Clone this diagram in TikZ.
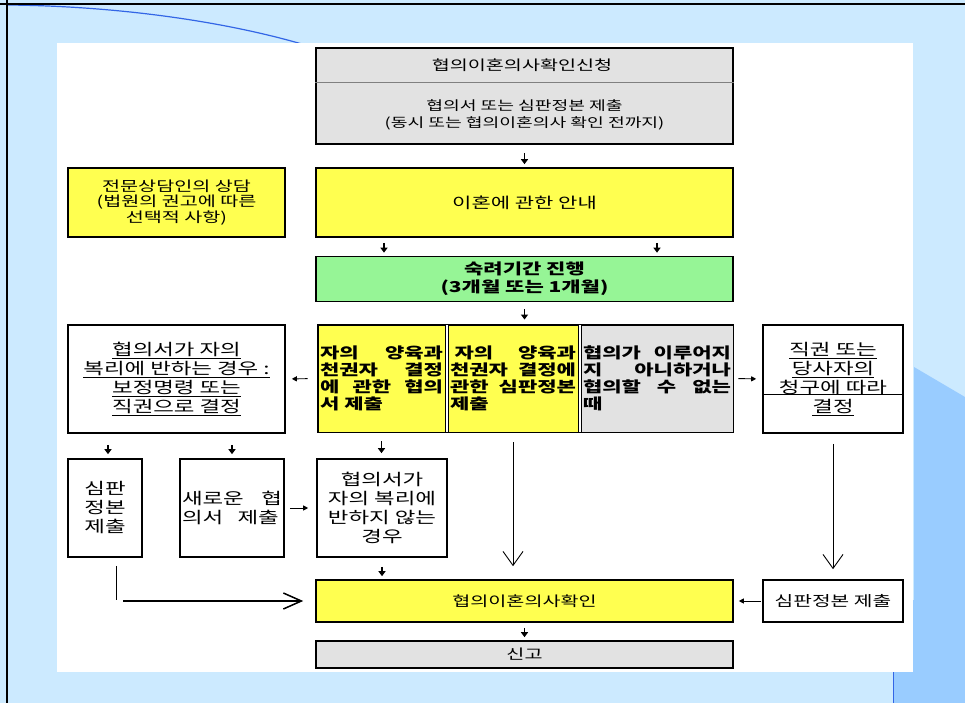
\documentclass[tikz,border=0pt]{standalone}
\usepackage{fontspec}
\newfontfamily\kr[FakeStretch=1.4]{Noto Sans CJK KR}
\usetikzlibrary{arrows.meta,calc}
\definecolor{bgblue}{RGB}{204,234,255}
\definecolor{dkblue}{RGB}{153,204,255}
\definecolor{arcblue}{RGB}{51,102,230}
\definecolor{kyellow}{RGB}{255,255,80}
\definecolor{kgreen}{RGB}{150,245,150}
\definecolor{kgrey}{RGB}{226,226,226}
\begin{document}
\begin{tikzpicture}[x=1pt,y=-1pt,
  box/.style={draw, line width=1.6pt, inner sep=0pt, anchor=center, align=center,
    font=\kr\fontsize{14}{15.5}\selectfont},
  yel/.style={box, fill=kyellow},
  gry/.style={box, fill=kgrey},
  grn/.style={box, fill=kgreen, font=\kr\bfseries\fontsize{15}{18}\selectfont},
  wht/.style={box, fill=white, font=\kr\fontsize{16}{19}\selectfont},
  cell/.style={draw, line width=0.9pt, inner sep=0pt, anchor=center, minimum height=107pt,
    align=left, font=\kr\bfseries\fontsize{15}{16.8}\selectfont},
  txt/.style={inner sep=0pt, align=center},
  sdown/.style={line width=1.7pt, -{Triangle[length=5pt,width=7pt]}},
  shor/.style={line width=0.9pt, -{Triangle[length=5pt,width=5pt]}},
  longv/.style={line width=0.9pt, -{Straight Barb[length=14pt,width=20pt]}},
  bigv/.style={line width=1.5pt, -{Straight Barb[length=18pt,width=16pt]}},
]
\useasboundingbox (0,0) rectangle (965,703);
% background
\fill[bgblue] (0,0) rectangle (965,703);
\fill[dkblue] (914,367) -- (965,397) -- (965,703) -- (893,703) -- (893,600) -- (914,600) -- cycle;
\draw[arcblue, line width=1pt] (893,672) -- (893,703);
\draw[arcblue, line width=1.2pt] (7,5) .. controls (120,6) and (230,22) .. (312,47);
\draw[black, line width=2.5pt] (0,4) -- (965,4);
\draw[black, line width=2.5pt] (7,0) -- (7,703);
\fill[white] (57,43) rectangle (913,672);

% top box
\node[gry, minimum width=417pt, minimum height=96pt] (top) at (524.5,96) {};
\draw[line width=0.8pt, gray] ([yshift=-35pt]top.north west) -- ([yshift=-35pt]top.north east);
\node[txt, font=\kr\fontsize{14}{17}\selectfont] (topa) at (522,65.5) {협의이혼의사확인신청};
\node[txt, font=\kr\fontsize{13}{17.5}\selectfont] (topb) at (524.5,115)
  {협의서 또는 심판정본 제출\\(동시 또는 협의이혼의사 확인 전까지)};

% second row
\node[yel, minimum width=217pt, minimum height=69pt] (counsel) at (176.5,202.5)
  {전문상담인의 상담\\(법원의 권고에 따른\\선택적 사항)};
\node[yel, minimum width=417pt, minimum height=69pt, font=\kr\fontsize{15}{17}\selectfont] (guide) at (524.5,202.5)
  {이혼에 관한 안내};

% green
\node[grn, minimum width=417pt, minimum height=45pt] (green) at (524.5,279)
  {숙려기간 진행\\(3개월 또는 1개월)};

% middle row cells
\node[cell, fill=kyellow, minimum width=127pt, text width=123pt] (cell1) at (381.5,378.5)
  {자의\hfill 양육과\\천권자\hfill 결정\\에\hfill 관한\hfill 협의\\서 제출};
\node[cell, fill=kyellow, minimum width=130pt, text width=126pt] (cell2) at (513,378.5)
  {\hspace{0.3em}자의\hfill 양육과\\천권자\hfill 결정에\\관한\hfill 심판정본\\제출};
\node[cell, fill=kgrey, minimum width=152pt, text width=148pt] (cell3) at (657,378.5)
  {협의가\hfill 이루어지\\지\hfill 아니하거나\\협의할\hfill 수\hfill 없는\\때};
\draw[line width=1.8pt] (cell1.north west) rectangle (cell3.south east);

\node[wht, minimum width=217pt, minimum height=108pt] (leftw) at (176.5,379)
  {\underline{협의서가 자의}\\\underline{복리에 반하는 경우 :}\\\underline{보정명령 또는}\\\underline{직권으로 결정}};
\node[wht, minimum width=140pt, minimum height=108pt] (rightw) at (833,379)
  {\underline{직권 또는}\\\underline{당사자의}\\청구에 따라\\\underline{결정}};
\draw[line width=0.8pt] ([yshift=-70pt]rightw.north west) -- ([yshift=-70pt]rightw.north east);

% lower boxes
\node[wht, minimum width=74pt, minimum height=98pt] (sim) at (105,508) {심판\\정본\\제출};
\node[wht, minimum width=104pt, minimum height=98pt, text width=100pt, align=left] (newa) at (232,508)
  {새로운\hfill 협\\의서\hspace{0.9em}제출};
\node[wht, minimum width=130pt, minimum height=98pt] (notc) at (382,508)
  {협의서가\\자의 복리에\\반하지 않는\\경우};

\node[yel, minimum width=417pt, minimum height=42pt] (confirm) at (524.5,601) {협의이혼의사확인};
\node[box, fill=white, minimum width=140pt, minimum height=42pt, font=\kr\fontsize{14.5}{16}\selectfont] (judge) at (833,601)
  {심판정본 제출};
\node[gry, minimum width=417pt, minimum height=27pt] (report) at (524.5,654.5) {신고};

% small arrows
\draw[sdown, shorten <=8pt, shorten >=3pt] (top.south) -- (guide.north);
\draw[sdown, shorten <=5pt, shorten >=3pt] ([xshift=-140.5pt]guide.south) -- ([xshift=-140.5pt]green.north);
\draw[sdown, shorten <=5pt, shorten >=3pt] ([xshift=132.5pt]guide.south) -- ([xshift=132.5pt]green.north);
\draw[sdown, shorten <=7pt, shorten >=5pt] (green.south) -- (green.south |- cell1.north);
\draw[shor, shorten <=10pt, shorten >=6pt] (cell1.west) -- (leftw.east);
\draw[shor, shorten <=5pt, shorten >=6pt] (cell3.east) -- (rightw.west);
\draw[sdown, shorten <=11pt, shorten >=4pt] ($(sim.north |- leftw.south)+(3,0)$) -- ($(sim.north)+(3,0)$);
\draw[sdown, shorten <=11pt, shorten >=4pt] (newa.north |- leftw.south) -- (newa.north);
\draw[sdown, shorten <=9pt, shorten >=5pt] (cell1.south) -- (cell1.south |- notc.north);
\draw[shor, shorten <=5pt, shorten >=8pt] (newa.east) -- (notc.west);
\draw[sdown, shorten <=9pt, shorten >=3pt] (notc.south) -- (notc.south |- confirm.north);
\draw[shor, shorten <=1pt, shorten >=5pt] (judge.west) -- (confirm.east);
\draw[sdown, shorten <=5pt, shorten >=3pt] (confirm.south) -- (report.north);

% long arrows
\draw[longv, shorten <=10pt, shorten >=13pt] (cell2.south) -- (cell2.south |- confirm.north);
\draw[longv, shorten <=10pt, shorten >=10pt] (rightw.south) -- (judge.north);

% L arrow
\coordinate (lc) at (116,600);
\coordinate (lh) at (123,601);
\draw[line width=1pt] ($(sim.south)+(11,8)$) -- (lc);
\draw[bigv, shorten >=12pt] (lh) -- (confirm.west);
\end{tikzpicture}
\end{document}
